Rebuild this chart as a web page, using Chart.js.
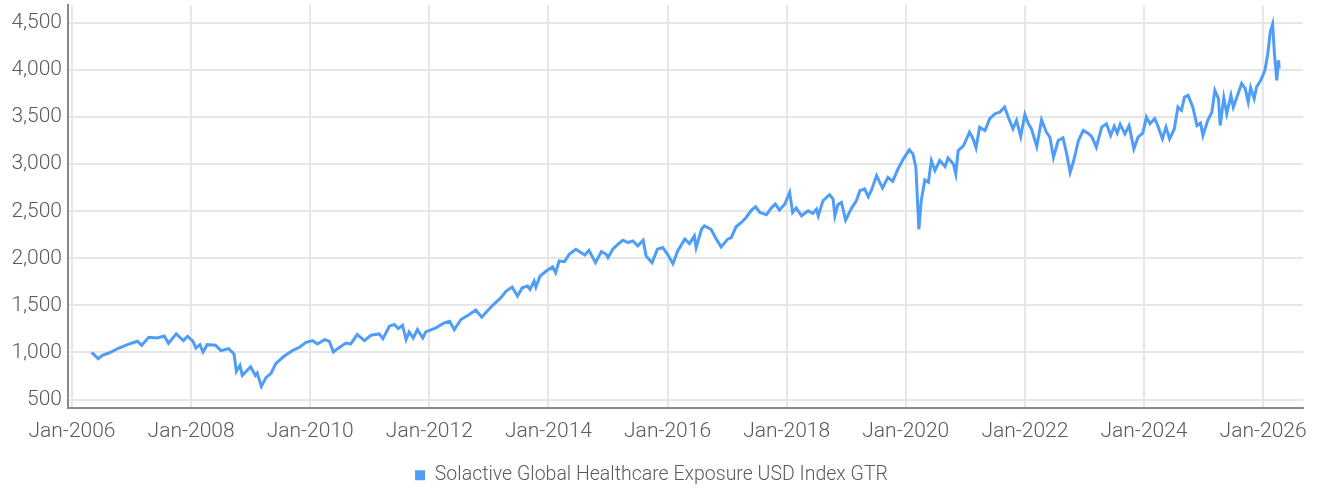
<!DOCTYPE html>
<html>
<head>
<meta charset="utf-8">
<script src="https://cdn.jsdelivr.net/npm/chart.js@4.4.1/dist/chart.umd.min.js"></script>
<style>
  html, body { margin: 0; padding: 0; background: #fff; }
  #wrap { width: 1321px; height: 491px; }
</style>
</head>
<body>
<div id="wrap"><canvas id="chart1"></canvas></div>
<script>
const seriesName = 'Solactive Global Healthcare Exposure USD Index GTR';

// time positions in decimal years
const yearPos = [
  2006.33, 2006.44, 2006.51, 2006.62, 2006.79, 2006.96, 2007.10, 2007.17, 2007.29, 2007.43,
  2007.55, 2007.62, 2007.75, 2007.87, 2007.94, 2008.03, 2008.08, 2008.15, 2008.20, 2008.27,
  2008.41, 2008.50, 2008.63, 2008.72, 2008.76, 2008.82, 2008.86, 2009.00, 2009.08, 2009.11,
  2009.18, 2009.26, 2009.34, 2009.42, 2009.56, 2009.70, 2009.82, 2009.93, 2010.04, 2010.12,
  2010.24, 2010.32, 2010.39, 2010.46, 2010.60, 2010.68, 2010.79, 2010.91, 2011.02, 2011.16,
  2011.22, 2011.33, 2011.41, 2011.48, 2011.55, 2011.61, 2011.66, 2011.73, 2011.80, 2011.89,
  2011.94, 2012.11, 2012.25, 2012.34, 2012.42, 2012.53, 2012.67, 2012.78, 2012.88, 2012.98,
  2013.09, 2013.20, 2013.29, 2013.39, 2013.48, 2013.56, 2013.65, 2013.69, 2013.76, 2013.79,
  2013.86, 2013.98, 2014.07, 2014.12, 2014.18, 2014.27, 2014.35, 2014.46, 2014.61, 2014.68,
  2014.79, 2014.89, 2014.97, 2015.00, 2015.08, 2015.17, 2015.25, 2015.34, 2015.42, 2015.50,
  2015.59, 2015.64, 2015.74, 2015.83, 2015.92, 2016.00, 2016.09, 2016.17, 2016.29, 2016.37,
  2016.45, 2016.48, 2016.57, 2016.62, 2016.73, 2016.82, 2016.90, 2017.01, 2017.07, 2017.15,
  2017.24, 2017.32, 2017.41, 2017.48, 2017.55, 2017.66, 2017.74, 2017.81, 2017.88, 2017.97,
  2018.05, 2018.10, 2018.16, 2018.25, 2018.36, 2018.44, 2018.50, 2018.53, 2018.61, 2018.72,
  2018.78, 2018.81, 2018.86, 2018.92, 2018.99, 2019.09, 2019.17, 2019.23, 2019.31, 2019.37,
  2019.42, 2019.51, 2019.61, 2019.70, 2019.78, 2019.87, 2019.96, 2020.06, 2020.12, 2020.17,
  2020.22, 2020.26, 2020.32, 2020.38, 2020.43, 2020.49, 2020.57, 2020.66, 2020.71, 2020.80,
  2020.84, 2020.88, 2020.97, 2021.07, 2021.13, 2021.18, 2021.24, 2021.33, 2021.41, 2021.50,
  2021.58, 2021.66, 2021.72, 2021.80, 2021.86, 2021.93, 2022.00, 2022.06, 2022.11, 2022.20,
  2022.28, 2022.36, 2022.42, 2022.48, 2022.56, 2022.64, 2022.70, 2022.76, 2022.82, 2022.90,
  2022.98, 2023.06, 2023.12, 2023.20, 2023.29, 2023.37, 2023.44, 2023.50, 2023.55, 2023.60,
  2023.68, 2023.75, 2023.83, 2023.90, 2023.98, 2024.04, 2024.10, 2024.18, 2024.23, 2024.31,
  2024.37, 2024.43, 2024.51, 2024.57, 2024.63, 2024.68, 2024.74, 2024.82, 2024.89, 2024.95,
  2024.99, 2025.07, 2025.14, 2025.19, 2025.25, 2025.28, 2025.34, 2025.39, 2025.46, 2025.50,
  2025.59, 2025.64, 2025.70, 2025.75, 2025.79, 2025.85, 2025.89, 2025.96, 2026.03, 2026.08,
  2026.12, 2026.16, 2026.19, 2026.23, 2026.26, 2026.27
];

const indexValues = [
  1000, 934, 969, 994, 1047, 1090, 1119, 1076, 1161, 1154,
  1175, 1097, 1197, 1126, 1172, 1119, 1047, 1083, 1005, 1083,
  1076, 1019, 1040, 983, 799, 863, 756, 848, 756, 781,
  639, 735, 775, 880, 959, 1019, 1055, 1108, 1126, 1090,
  1136, 1119, 1005, 1040, 1100, 1090, 1190, 1126, 1183, 1197,
  1147, 1279, 1297, 1254, 1289, 1137, 1218, 1154, 1243, 1154,
  1218, 1261, 1314, 1332, 1243, 1350, 1403, 1450, 1375, 1446,
  1517, 1581, 1652, 1695, 1599, 1687, 1705, 1670, 1759, 1695,
  1812, 1873, 1908, 1847, 1972, 1965, 2043, 2097, 2036, 2086,
  1954, 2071, 2043, 2007, 2097, 2150, 2193, 2168, 2185, 2132,
  2193, 2025, 1954, 2097, 2114, 2043, 1943, 2079, 2204, 2157,
  2239, 2114, 2309, 2345, 2309, 2204, 2121, 2204, 2221, 2335,
  2381, 2434, 2513, 2548, 2487, 2463, 2534, 2577, 2513, 2577,
  2701, 2487, 2534, 2452, 2505, 2477, 2523, 2452, 2612, 2676,
  2630, 2452, 2569, 2594, 2406, 2534, 2612, 2719, 2737, 2655,
  2719, 2879, 2747, 2861, 2818, 2950, 3057, 3153, 3110, 2967,
  2309, 2612, 2833, 2808, 3039, 2932, 3039, 2975, 3067, 3003,
  2897, 3145, 3199, 3341, 3270, 3174, 3394, 3359, 3484, 3537,
  3554, 3607, 3501, 3377, 3465, 3295, 3529, 3430, 3377, 3188,
  3473, 3341, 3287, 3074, 3252, 3281, 3117, 2914, 3039, 3252,
  3360, 3330, 3295, 3181, 3394, 3430, 3305, 3401, 3330, 3423,
  3323, 3412, 3163, 3287, 3330, 3501, 3430, 3484, 3412, 3270,
  3394, 3270, 3377, 3607, 3572, 3714, 3732, 3607, 3412, 3437,
  3305, 3465, 3554, 3785, 3697, 3412, 3707, 3537, 3732, 3607,
  3768, 3857, 3804, 3661, 3814, 3697, 3821, 3892, 3999, 4177,
  4408, 4490, 4177, 3892, 4105, 4017
];

const xTickYears = [2006, 2008, 2010, 2012, 2014, 2016, 2018, 2020, 2022, 2024, 2026];
const yTickValues = [500, 1000, 1500, 2000, 2500, 3000, 3500, 4000, 4500];

const points = yearPos.map((x, i) => ({ x: x, y: indexValues[i] }));

const textColor = '#5a5a5a';
const gridColor = '#e6e6e6';
const axisColor = '#8a8a8a';
const lineColor = 'rgb(80, 157, 247)';
const tickFont = { family: 'Roboto', size: 21, weight: 300 };
const legendFont = { family: 'Roboto', size: 19.5, weight: 300 };

const ctx = document.getElementById('chart1').getContext('2d');
const myChart = new Chart(ctx, {
  type: 'line',
  data: {
    datasets: [
      {
        label: seriesName,
        data: points,
        borderColor: lineColor,
        backgroundColor: lineColor,
        borderWidth: 3,
        pointRadius: 0,
        tension: 0,
      },
    ],
  },
  options: {
    responsive: true,
    maintainAspectRatio: false,
    animation: false,
    layout: { padding: { top: 5, right: 18, left: 0, bottom: -4 } },
    plugins: {
      tooltip: { enabled: false },
      legend: {
        position: 'bottom',
        labels: {
          color: textColor,
          font: legendFont,
          boxWidth: 10,
          boxHeight: 10,
          padding: 8,
          generateLabels: (chart) =>
            Chart.defaults.plugins.legend.labels.generateLabels(chart).map((l) => ({ ...l, lineWidth: 0 })),
        },
      },
    },
    scales: {
      x: {
        type: 'linear',
        min: 2005.933,
        max: 2026.67,
        afterBuildTicks: (scale) => {
          scale.ticks = xTickYears.map((v) => ({ value: v }));
        },
        afterFit: (scale) => {
          scale.height = 50;
        },
        grid: { color: gridColor, lineWidth: 2, drawTicks: false },
        border: { color: axisColor, width: 2 },
        ticks: {
          color: textColor,
          font: tickFont,
          padding: 12,
          maxRotation: 0,
          autoSkip: false,
          callback: (v) => 'Jan-' + v,
        },
      },
      y: {
        min: 415,
        max: 4692,
        afterBuildTicks: (scale) => {
          scale.ticks = yTickValues.map((v) => ({ value: v }));
        },
        afterFit: (scale) => {
          scale.width = 68;
          scale.paddingTop = 0;
          scale.paddingBottom = 0;
        },
        grid: { color: gridColor, lineWidth: 2, drawTicks: false },
        border: { color: axisColor, width: 2 },
        ticks: {
          color: textColor,
          font: tickFont,
          padding: 6,
          callback: (v) => v.toLocaleString('en-US'),
        },
      },
    },
  },
});
</script>
</body>
</html>
